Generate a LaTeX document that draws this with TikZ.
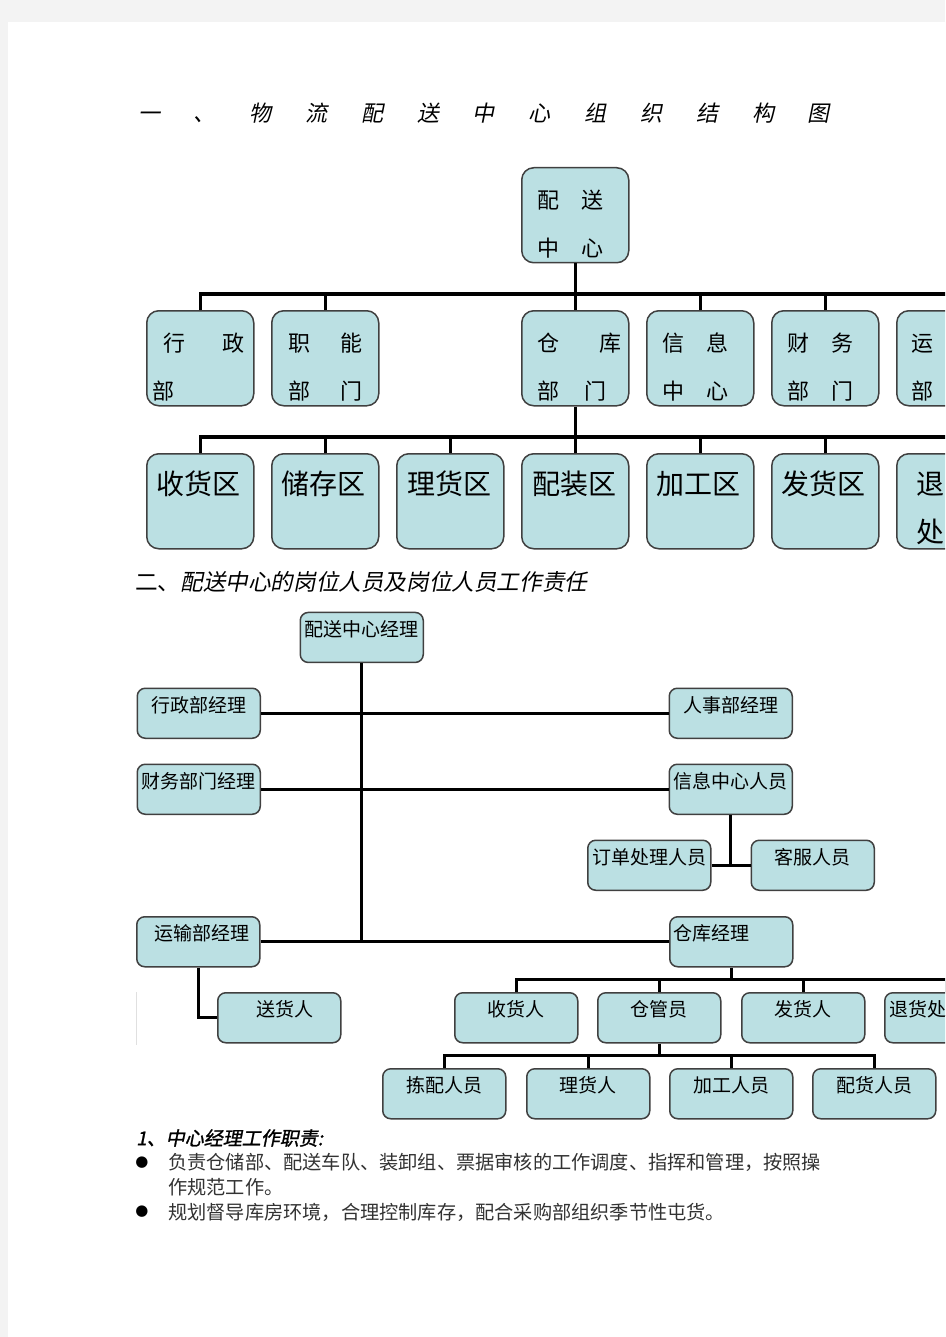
\documentclass[tikz,border=0pt]{standalone}
\usepackage{fontspec}
\setmainfont{Noto Sans CJK SC}
\newfontfamily\cjkit[FakeSlant=0.2]{Noto Sans CJK SC}
\newfontfamily\cjkbi[FakeSlant=0.2,FakeBold=1.2]{Noto Sans CJK SC}
\newfontfamily\dejavu{DejaVu Sans}
\definecolor{pagebg}{RGB}{243,243,243}
\definecolor{boxc}{RGB}{187,224,227}
\definecolor{bordc}{RGB}{64,64,64}
\definecolor{txtc}{RGB}{50,50,50}
\newcommand\tsp{\hspace{33.8pt}}
\tikzset{
  boxbase/.style={draw=bordc, fill=boxc, line width=1.5pt, inner sep=0pt, anchor=north west},
  boxa/.style={boxbase, rounded corners=12pt, text width=107pt, align=left,
    font=\fontsize{22}{48}\selectfont, text height=40.4pt, text depth=54.6pt},
  boxb/.style={boxbase, rounded corners=12pt, text width=107pt, align=left,
    font=\fontsize{28}{48}\selectfont, text height=40.6pt, text depth=54.4pt},
  boxc2/.style={boxbase, rounded corners=8pt, text width=123pt, align=center,
    font=\fontsize{19}{22}\selectfont, text height=24.2pt, text depth=25.8pt},
  conn/.style={line width=3.5pt, black},
  connb/.style={line width=3pt, black},
  txt/.style={anchor=base west, inner sep=0pt},
}
\begin{document}
\begin{tikzpicture}[x=1pt,y=-1pt]
\useasboundingbox (0,0) rectangle (945,1337);
\begin{scope}
\clip (0,0) rectangle (945,1337);
\fill[pagebg] (0,0) rectangle (945,1337);
\fill[white] (8,22) rectangle (945,1337);

% title
\node[txt, font=\cjkit\fontsize{22}{22}\selectfont] (title) at (138,121.4)
 {一\tsp{}、\tsp{}物\tsp{}流\tsp{}配\tsp{}送\tsp{}中\tsp{}心\tsp{}组\tsp{}织\tsp{}结\tsp{}构\tsp{}图};

% ---------- chart 1 ----------
\coordinate (bus1) at (0,294);
\coordinate (bus2) at (0,437);
\node[boxa] (top) at (521,167) {\hspace*{16pt}配\hspace{22pt}送\\\hspace*{16pt}中\hspace{22pt}心};
\node[boxa] (xz1) at (146,310) {\hspace*{17pt}行\hspace{37pt}政\\\hspace*{6pt}部};
\node[boxa] (zn1) at (271,310) {\hspace*{17pt}职\hspace{30pt}能\\\hspace*{17pt}部\hspace{30pt}门};
\node[boxa] (ck1) at (521,310) {\hspace*{16pt}仓\hspace{40pt}库\\\hspace*{16pt}部\hspace{25pt}门};
\node[boxa] (xx1) at (646,310) {\hspace*{16pt}信\hspace{22pt}息\\\hspace*{16pt}中\hspace{22pt}心};
\node[boxa] (cw1) at (771,310) {\hspace*{16pt}财\hspace{22pt}务\\\hspace*{16pt}部\hspace{22pt}门};
\node[boxa] (ys1) at (896,310) {\hspace*{15pt}运\\\hspace*{15pt}部};

\node[boxb] (sh3) at (146,453) {\hspace*{10pt}收货区};
\node[boxb] (cc3) at (271,453) {\hspace*{10pt}储存区};
\node[boxb] (lh3) at (396,453) {\hspace*{11pt}理货区};
\node[boxb] (pz3) at (521,453) {\hspace*{11pt}配装区};
\node[boxb] (jg3) at (646,453) {\hspace*{10pt}加工区};
\node[boxb] (fh3) at (771,453) {\hspace*{10pt}发货区};
\node[boxb] (th3) at (896,453) {\hspace*{20pt}退\\\hspace*{20pt}处};

\draw[conn] (top.south) -- (ck1.north);
\draw[conn] (xz1.north) |- (ys1.north |- bus1) -- (ys1.north);
\foreach \n in {zn1,xx1,cw1} \draw[conn] (\n.north) -- (\n.north |- bus1);
\draw[conn] (ck1.south) -- (pz3.north);
\draw[conn] (sh3.north) |- (th3.north |- bus2) -- (th3.north);
\foreach \n in {cc3,lh3,jg3,fh3} \draw[conn] (\n.north) -- (\n.north |- bus2);

% heading 2
\node[txt, font=\fontsize{22.6}{24}\selectfont] (h2) at (135,590.6)
 {二、{\cjkit 配送中心的岗位人员及岗位人员工作责任}};

% ---------- chart 2 ----------
\node[boxc2] (mgr) at (299.5,611.7) {配送中心经理};
\node[boxc2] (xz) at (136.5,687.5) {行政部经理};
\node[boxc2] (rs) at (668.5,687.5) {人事部经理};
\node[boxc2] (cw) at (136.5,763.5) {财务部门经理};
\node[boxc2] (xx) at (668.5,763.5) {信息中心人员};
\node[boxc2] (dd) at (587,839.5) {订单处理人员};
\node[boxc2] (kf) at (750.5,839.5) {客服人员};
\node[boxc2] (ys) at (136,916) {\makebox[103pt][r]{运输部经理}};
\node[boxc2] (ck) at (669,916) {\makebox[115.8pt][l]{仓库经理}};
\node[boxc2] (sh) at (217,992) {\makebox[69pt][r]{送货人}};
\node[boxc2] (r1a) at (454,992) {收货人};
\node[boxc2] (r1b) at (597,992) {仓管员};
\node[boxc2] (r1c) at (741,992) {发货人};
\node[boxc2] (r1d) at (884,992) {\makebox[113pt][l]{退货处}};
\node[boxc2] (r2a) at (382,1068) {拣配人员};
\node[boxc2] (r2b) at (526,1068) {理货人};
\node[boxc2] (r2c) at (669,1068) {加工人员};
\node[boxc2] (r2d) at (812,1068) {配货人员};

\coordinate (bus3) at (0,979);
\coordinate (bus4) at (0,1055);
\draw[connb] (mgr.south) -- (mgr.south |- ys.east);
\draw[connb] (xz.east) -- (rs.west);
\draw[connb] (cw.east) -- (xx.west);
\draw[connb] (ys.east) -- (ck.west);
\draw[connb] (xx.south) -- (xx.south |- dd.east);
\draw[connb] (dd.east) -- (kf.west);
\draw[connb] (ys.south) |- (sh.west);
\draw[connb] (ck.south) -- (ck.south |- bus3);
\draw[connb] (r1a.north) |- (r1d.north |- bus3) -- (r1d.north);
\foreach \n in {r1b,r1c} \draw[connb] (\n.north) -- (\n.north |- bus3);
\draw[connb] (r1b.south) -- (r1b.south |- bus4);
\draw[connb] (r2a.north) |- (r2d.north |- bus4) -- (r2d.north);
\foreach \n in {r2b,r2c} \draw[connb] (\n.north) -- (\n.north |- bus4);
\draw[black!12, line width=0.6pt] (136,992) -- (136,1045);

% ---------- text ----------
\node[txt, font=\cjkbi\fontsize{19}{22}\selectfont] (h3) at (136,1145.2) {1、中心经理工作职责:};
\node[anchor=center, inner sep=0pt, font=\dejavu\fontsize{15}{15}\selectfont] (bul1) at (142,1162.5) {●};
\node[anchor=center, inner sep=0pt, font=\dejavu\fontsize{15}{15}\selectfont] (bul2) at (142,1212) {●};
\node[txt, text=txtc, font=\fontsize{19.2}{22}\selectfont] (l1) at (168,1169.8)
 {负责仓储部、配送车队、装卸组、票据审核的工作调度、指挥和管理，按照操};
\node[txt, text=txtc, font=\fontsize{19.2}{22}\selectfont] (l2) at (168,1194.8) {作规范工作。};
\node[txt, text=txtc, font=\fontsize{19.2}{22}\selectfont] (l3) at (168,1219.3)
 {规划督导库房环境，合理控制库存，配合采购部组织季节性屯货。};
\end{scope}
\end{tikzpicture}
\end{document}
